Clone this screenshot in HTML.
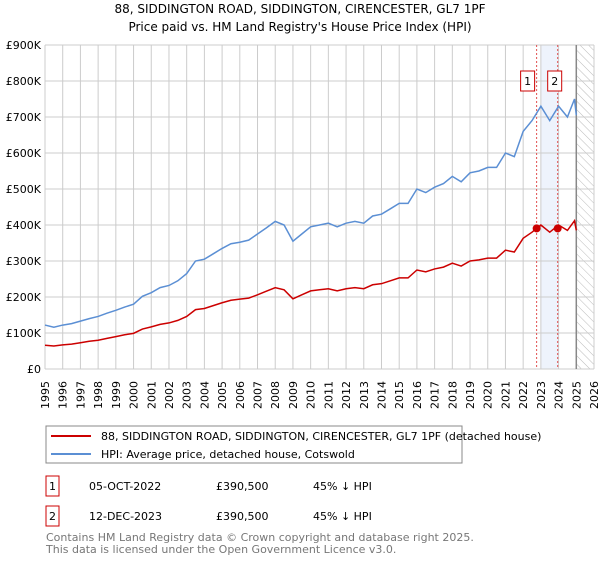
<!DOCTYPE html>
<html><head><meta charset="utf-8"><style>
body{margin:0;background:#fff;font-family:"DejaVu Sans","Liberation Sans",sans-serif;}
svg text{font-family:"DejaVu Sans","Liberation Sans",sans-serif;}
</style></head><body>
<svg id="c" width="600" height="560">
<defs><pattern id="hatch" width="6" height="6" patternUnits="userSpaceOnUse" patternTransform="rotate(-45)"><line x1="0" y1="0" x2="0" y2="6" stroke="#bbb" stroke-width="1"/></pattern></defs>
<text x="300" y="13" text-anchor="middle" font-size="12">88, SIDDINGTON ROAD, SIDDINGTON, CIRENCESTER, GL7 1PF</text>
<text x="300" y="31" text-anchor="middle" font-size="12">Price paid vs. HM Land Registry's House Price Index (HPI)</text>
<g id="grid"></g><g id="marks"></g>
<rect x="46" y="426" width="416" height="37" fill="#fff" stroke="#888"/>
<line x1="51" y1="436" x2="91" y2="436" stroke="#cc0000" stroke-width="2"/>
<text x="101" y="440" font-size="11">88, SIDDINGTON ROAD, SIDDINGTON, CIRENCESTER, GL7 1PF (detached house)</text>
<line x1="51" y1="454" x2="91" y2="454" stroke="#5b8fd4" stroke-width="2"/>
<text x="101" y="458" font-size="11">HPI: Average price, detached house, Cotswold</text>
<g font-size="11">
<rect x="46" y="476" width="13" height="20" fill="#fff" stroke="#cc0000"/><text x="52.5" y="490" text-anchor="middle">1</text>
<text x="89" y="490">05-OCT-2022</text><text x="216" y="490">£390,500</text><text x="313" y="490">45% ↓ HPI</text></g>
<g font-size="11">
<rect x="46" y="506" width="13" height="20" fill="#fff" stroke="#cc0000"/><text x="52.5" y="520" text-anchor="middle">2</text>
<text x="89" y="520">12-DEC-2023</text><text x="216" y="520">£390,500</text><text x="313" y="520">45% ↓ HPI</text></g>
<text x="46" y="541" font-size="11" fill="#777">Contains HM Land Registry data © Crown copyright and database right 2025.</text>
<text x="46" y="553" font-size="11" fill="#777">This data is licensed under the Open Government Licence v3.0.</text>
</svg>
<script>
const years=[1995,1995.5,1996,1996.5,1997,1997.5,1998,1998.5,1999,1999.5,2000,2000.5,2001,2001.5,2002,2002.5,2003,2003.5,2004,2004.5,2005,2005.5,2006,2006.5,2007,2007.5,2008,2008.5,2009,2009.5,2010,2010.5,2011,2011.5,2012,2012.5,2013,2013.5,2014,2014.5,2015,2015.5,2016,2016.5,2017,2017.5,2018,2018.5,2019,2019.5,2020,2020.5,2021,2021.5,2022,2022.5,2023,2023.5,2024,2024.5,2024.9,2025.0];
const hpiValues=[122,116,122,126,133,140,146,155,163,172,180,202,212,226,232,245,265,300,305,320,335,348,352,358,375,392,410,400,355,375,395,400,405,395,405,410,405,425,430,445,460,460,500,490,505,515,535,520,545,550,560,560,600,590,660,690,730,690,730,700,750,705];
const priceValues=[66,64,67,69,73,77,80,85,90,95,99,111,117,124,128,135,146,165,168,176,184,191,194,197,206,216,226,220,195,206,217,220,223,217,223,226,223,234,237,245,253,253,275,270,278,283,294,286,300,303,308,308,330,325,363,380,400,380,400,385,412,385];
const saleYears=[2022.76,2023.95];
const salePrices=[390.5,390.5];
const yTicks=[0,100,200,300,400,500,600,700,800,900];
const yTickLabels=["£0","£100K","£200K","£300K","£400K","£500K","£600K","£700K","£800K","£900K"];
const xTicks=[1995,1996,1997,1998,1999,2000,2001,2002,2003,2004,2005,2006,2007,2008,2009,2010,2011,2012,2013,2014,2015,2016,2017,2018,2019,2020,2021,2022,2023,2024,2025,2026];
const L=45,R=594,T=45,B=369;
const x=v=>L+(v-1995)/(2026-1995)*(R-L);
const y=v=>B-v/900*(B-T);
const NS="http://www.w3.org/2000/svg";
function mk(p,t,a){const e=document.createElementNS(NS,t);for(const k in a)e.setAttribute(k,a[k]);p.appendChild(e);return e;}
const g=document.getElementById('grid'),m=document.getElementById('marks');
mk(g,'rect',{x:x(2023),y:T,width:x(2024)-x(2023),height:B-T,fill:'#eef3fc'});
mk(g,'rect',{x:x(2025),y:T,width:R-x(2025),height:B-T,fill:'url(#hatch)'});
yTicks.forEach((v,i)=>{mk(g,'line',{x1:L,x2:R,y1:y(v),y2:y(v),stroke:'#ccc'});
const t=mk(g,'text',{x:L-4,y:y(v)+4,'text-anchor':'end','font-size':11});t.textContent=yTickLabels[i];

});
xTicks.forEach(v=>{mk(g,'line',{x1:x(v),x2:x(v),y1:T,y2:B,stroke:'#ccc'});
const tx=x(v)+4,ty=B+12;
const t=mk(g,'text',{x:tx,y:ty,'text-anchor':'end','font-size':11,transform:'rotate(-90 '+tx+' '+ty+')'});t.textContent=v;

});
mk(g,'line',{x1:x(2025),x2:x(2025),y1:T,y2:B,stroke:'#888','stroke-width':1.5});
saleYears.forEach((s,i)=>{const l=mk(m,'line',{x1:x(s),x2:x(s),y1:T,y2:B,stroke:'#e05050','stroke-dasharray':'2,2'});


const bx=mk(m,'rect',{x:x(s)-15+(i?5:-1),y:y(800)-10,width:14,height:20,fill:'#fff',stroke:'#cc0000'});


const t=mk(m,'text',{x:x(s)-8+(i?5:-1),y:y(800)+4,'text-anchor':'middle','font-size':11});t.textContent=i+1;});
const hp=mk(m,'polyline',{points:years.map((v,i)=>x(v)+','+y(hpiValues[i])).join(' '),fill:'none',stroke:'#5b8fd4','stroke-width':1.5});


const pp=mk(m,'polyline',{points:years.map((v,i)=>x(v)+','+y(priceValues[i])).join(' '),fill:'none',stroke:'#cc0000','stroke-width':1.5});


saleYears.forEach((s,i)=>{const c=mk(m,'circle',{cx:x(s),cy:y(salePrices[i]),r:4,fill:'#cc0000'});

});
</script>
</body></html>
